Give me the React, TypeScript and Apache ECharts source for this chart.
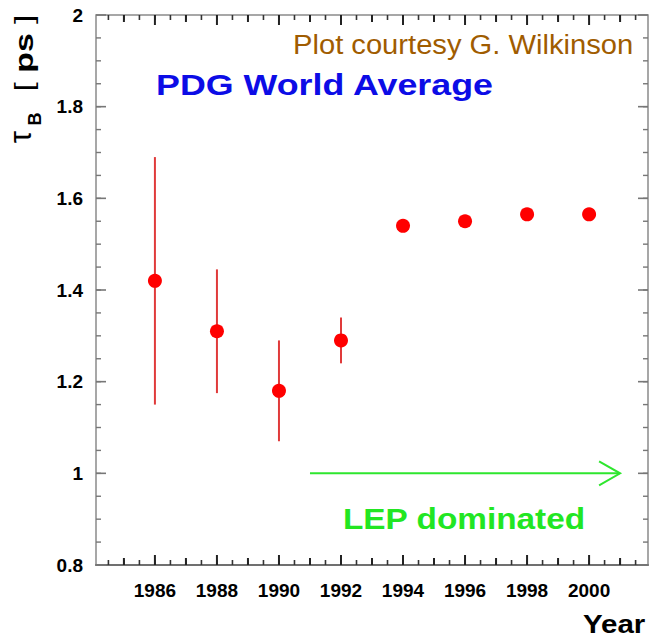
import React, { useEffect, useRef } from "react";
import * as echarts from "echarts";

// Data
const YEARS = [1986, 1988, 1990, 1992, 1994, 1996, 1998, 2000];
const TAU_B = [1.42, 1.31, 1.18, 1.29, 1.54, 1.55, 1.565, 1.565];
const TAU_ERR = [0.27, 0.135, 0.11, 0.05, 0.012, 0.01, 0.006, 0.006];

// Axis ranges, ticks and labels
const X_MIN = 1984.1;
const X_MAX = 2001.9;
const X_LABELS = [1986, 1988, 1990, 1992, 1994, 1996, 1998, 2000];
const X_ODD = [1985, 1987, 1989, 1991, 1993, 1995, 1997, 1999, 2001];
const Y_MIN = 0.8;
const Y_MAX = 2;
const Y_LABELS = [0.8, 1, 1.2, 1.4, 1.6, 1.8, 2];

// Annotation arrow (x from, y, x to)
const ARROW = [1991, 1.0, 2001];

const X_MINOR: number[] = [];
for (let i = 3969; i <= 4003; i++) X_MINOR.push(i / 2);
const Y_MINOR: number[] = [];
for (let i = 17; i < 40; i++) Y_MINOR.push(i / 20);

const AXIS_COLOR = "#8a8a8a";
const FONT = "Liberation Sans, Arial, sans-serif";

function xTicks(values: number[], len: number, color: string, w: number) {
  return {
    type: "custom",
    silent: true,
    z: 4,
    clip: false,
    encode: { x: 0, y: [1, 2] },
    data: values.map((v) => [v, Y_MIN, Y_MAX]),
    renderItem: (params: any, api: any) => {
      const b = api.coord([api.value(0), api.value(1)]);
      const t = api.coord([api.value(0), api.value(2)]);
      return {
        type: "group",
        children: [
          { type: "line", shape: { x1: b[0], y1: b[1], x2: b[0], y2: b[1] - len }, style: { stroke: color, lineWidth: w } },
          { type: "line", shape: { x1: t[0], y1: t[1], x2: t[0], y2: t[1] + len }, style: { stroke: color, lineWidth: w } },
        ],
      };
    },
  };
}

function yTicks(values: number[], len: number, color: string, w: number) {
  return {
    type: "custom",
    silent: true,
    z: 4,
    clip: false,
    encode: { x: [0, 1], y: 2 },
    data: values.map((v) => [X_MIN, X_MAX, v]),
    renderItem: (params: any, api: any) => {
      const l = api.coord([api.value(0), api.value(2)]);
      const r = api.coord([api.value(1), api.value(2)]);
      return {
        type: "group",
        children: [
          { type: "line", shape: { x1: l[0], y1: l[1], x2: l[0] + len, y2: l[1] }, style: { stroke: color, lineWidth: w } },
          { type: "line", shape: { x1: r[0], y1: r[1], x2: r[0] - len, y2: r[1] }, style: { stroke: color, lineWidth: w } },
        ],
      };
    },
  };
}

const TEXTS: any[] = [
  {
    type: "text",
    x: 293,
    y: 45,
    scaleX: 1.08,
    style: {
      text: "Plot courtesy G. Wilkinson",
      fontFamily: FONT,
      fontSize: 27,
      fill: "#a05c00",
      textAlign: "left",
      textVerticalAlign: "middle",
    },
  },
  {
    type: "text",
    x: 156,
    y: 85,
    scaleX: 1.235,
    style: {
      text: "PDG World Average",
      fontFamily: FONT,
      fontWeight: "bold",
      fontSize: 29,
      fill: "#0c0ce6",
      textAlign: "left",
      textVerticalAlign: "middle",
    },
  },
  {
    type: "text",
    x: 343,
    y: 519,
    scaleX: 1.15,
    style: {
      text: "LEP dominated",
      fontFamily: FONT,
      fontWeight: "bold",
      fontSize: 29,
      fill: "#22e622",
      textAlign: "left",
      textVerticalAlign: "middle",
    },
  },
  {
    type: "text",
    x: 583,
    y: 624,
    scaleX: 1.18,
    style: {
      text: "Year",
      fontFamily: FONT,
      fontWeight: "bold",
      fontSize: 25,
      fill: "#000",
      textAlign: "left",
      textVerticalAlign: "middle",
    },
  },
  {
    type: "text",
    x: 20,
    y: 137,
    rotation: Math.PI / 2,
    style: {
      text: "τ",
      fontFamily: FONT,
      fontSize: 31,
      fill: "#000",
      textAlign: "center",
      textVerticalAlign: "middle",
    },
  },
  {
    type: "text",
    x: 35,
    y: 119,
    rotation: Math.PI / 2,
    style: {
      text: "B",
      fontFamily: FONT,
      fontWeight: "bold",
      fontSize: 18,
      fill: "#000",
      textAlign: "center",
      textVerticalAlign: "middle",
    },
  },
  {
    type: "text",
    x: 24,
    y: 53,
    rotation: Math.PI / 2,
    scaleX: 1.3,
    style: {
      text: "{b|[}{p| ps }{b|]}",
      fontFamily: FONT,
      fill: "#000",
      textAlign: "center",
      textVerticalAlign: "middle",
      rich: {
        b: { fontFamily: FONT, fontSize: 26, fontWeight: "normal", fill: "#000" },
        p: { fontFamily: FONT, fontSize: 26, fontWeight: "bold", fill: "#000" },
      },
    },
  },
];

export default function App() {
  const ref = useRef<HTMLDivElement>(null);

  useEffect(() => {
    if (!ref.current) return;
    const chart = echarts.init(ref.current, null, { renderer: "svg" });

    const option: any = {
      animation: false,
      backgroundColor: "#ffffff",
      grid: {
        left: 96,
        right: 4,
        top: 15,
        bottom: 74,
        containLabel: false,
        show: true,
        borderColor: AXIS_COLOR,
        borderWidth: 1.5,
        backgroundColor: "transparent",
      },
      xAxis: {
        type: "value",
        min: X_MIN,
        max: X_MAX,
        splitLine: { show: false },
        axisLine: { show: true, onZero: false, lineStyle: { color: "#707070", width: 2 } },
        axisTick: { show: false },
        axisLabel: {
          show: true,
          customValues: X_LABELS,
          margin: 16,
          fontFamily: FONT,
          fontWeight: "bold",
          fontSize: 19,
          color: "#000",
          formatter: (v: number) => String(v),
        },
      },
      yAxis: {
        type: "value",
        min: Y_MIN,
        max: Y_MAX,
        splitLine: { show: false },
        axisLine: { show: false },
        axisTick: { show: false },
        axisLabel: {
          show: true,
          customValues: Y_LABELS,
          margin: 13,
          fontFamily: FONT,
          fontWeight: "bold",
          fontSize: 19,
          color: "#000",
          formatter: (v: number) => String(Math.round(v * 10) / 10),
        },
      },
      graphic: TEXTS,
      series: [
        xTicks(X_MINOR, 5, "#333333", 1.6),
        xTicks(X_ODD, 7, "#222222", 2),
        xTicks(X_LABELS, 10, "#222222", 2),
        yTicks(Y_MINOR, 5, "#777777", 1.4),
        yTicks(Y_LABELS, 10, "#777777", 1.6),
        {
          type: "custom",
          name: "errors",
          z: 2,
          encode: { x: 0, y: [1, 2] },
          data: YEARS.map((y, i) => [y, TAU_B[i] - TAU_ERR[i], TAU_B[i] + TAU_ERR[i]]),
          renderItem: (params: any, api: any) => {
            const x = api.value(0);
            const lo = api.coord([x, api.value(1)]);
            const hi = api.coord([x, api.value(2)]);
            return {
              type: "line",
              shape: { x1: lo[0], y1: lo[1], x2: hi[0], y2: hi[1] },
              style: { stroke: "#e03a3a", lineWidth: 2 },
            };
          },
        },
        {
          type: "scatter",
          name: "tau_B",
          z: 3,
          symbol: "circle",
          symbolSize: 14,
          itemStyle: { color: "#ff0000", opacity: 1 },
          data: YEARS.map((y, i) => [y, TAU_B[i]]),
        },
        {
          type: "custom",
          name: "arrow",
          z: 2,
          encode: { x: [0, 2], y: 1 },
          data: [ARROW],
          renderItem: (params: any, api: any) => {
            const s = api.coord([api.value(0), api.value(1)]);
            const e = api.coord([api.value(2), api.value(1)]);
            const stroke = "#2ee62e";
            return {
              type: "group",
              children: [
                {
                  type: "line",
                  shape: { x1: s[0], y1: s[1], x2: e[0], y2: e[1] },
                  style: { stroke, lineWidth: 2 },
                },
                {
                  type: "polyline",
                  shape: {
                    points: [
                      [e[0] - 21, e[1] - 12],
                      [e[0], e[1]],
                      [e[0] - 21, e[1] + 12],
                    ],
                  },
                  style: { stroke, lineWidth: 2, fill: null },
                },
              ],
            };
          },
        },
      ],
    };

    chart.setOption(option);
    return () => chart.dispose();
  }, []);

  return (
    <div
      ref={ref}
      style={{ position: "fixed", left: 0, top: 0, width: 652, height: 639, background: "#fff" }}
    />
  );
}
